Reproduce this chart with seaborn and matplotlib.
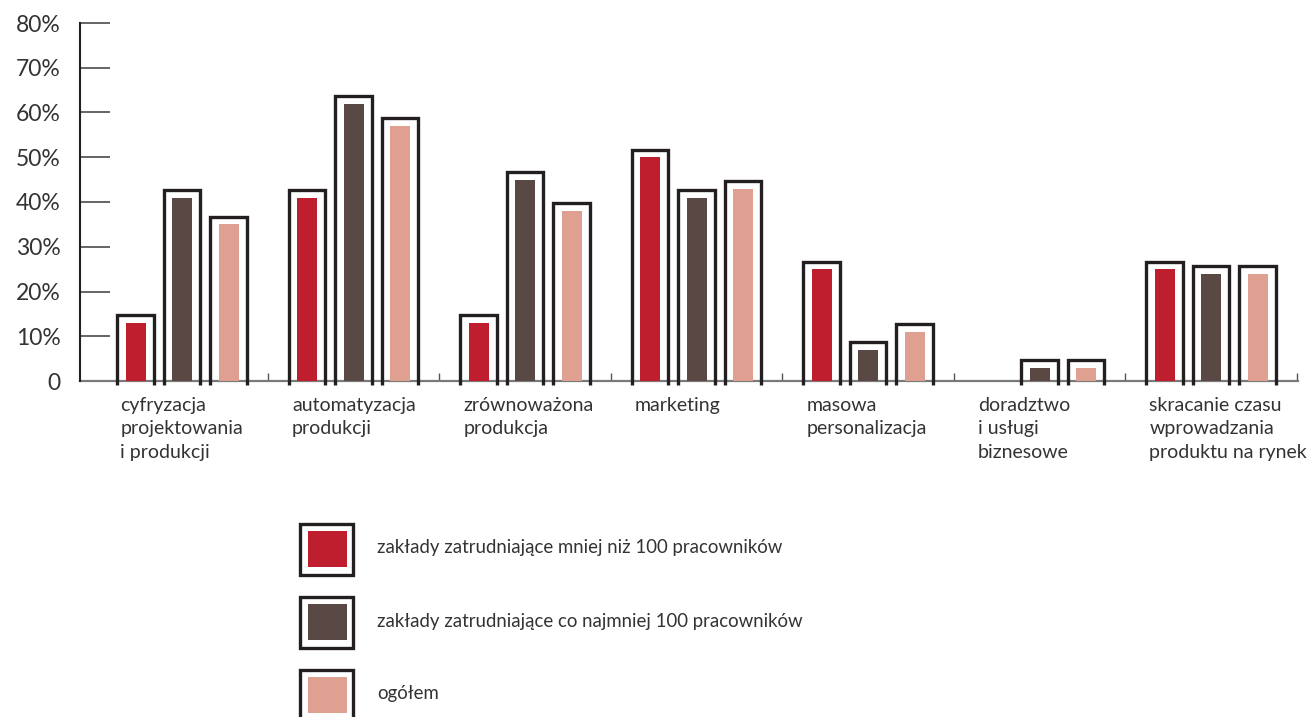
import matplotlib
matplotlib.use("Agg")
import matplotlib.pyplot as plt
import seaborn as sns
import pandas as pd
from matplotlib.patches import Rectangle
from matplotlib.ticker import FuncFormatter, FixedLocator

# --- data -----------------------------------------------------------------
categories = [
    "cyfryzacja\nprojektowania\ni produkcji",
    "automatyzacja\nprodukcji",
    "zrównoważona\nprodukcja",
    "marketing",
    "masowa\npersonalizacja",
    "doradztwo\ni usługi\nbiznesowe",
    "skracanie czasu\nwprowadzania\nproduktu na rynek",
]
series_names = [
    "zakłady zatrudniające mniej niż 100 pracowników",
    "zakłady zatrudniające co najmniej 100 pracowników",
    "ogółem",
]
small_plants = [13, 41, 13, 50, 25, 0, 25]
large_plants = [41, 62, 45, 41, 7, 3, 24]
all_plants = [35, 57, 38, 43, 11, 3, 24]
y_ticks = [0, 10, 20, 30, 40, 50, 60, 70, 80]

colors = ["#BE1E2D", "#594844", "#E0A091"]
frame_color = "#231F20"
text_color = "#333333"

rows = []
for name, vals in zip(series_names, [small_plants, large_plants, all_plants]):
    for cat, v in zip(categories, vals):
        rows.append({"kategoria": cat, "grupa": name, "udział": v})
df = pd.DataFrame(rows)

# --- style ----------------------------------------------------------------
sns.set_style("white")
plt.rcParams["font.family"] = ["Lato", "DejaVu Sans"]
plt.rcParams["text.color"] = text_color

W, H = 1311, 717
fig = plt.figure(figsize=(W / 100, H / 100), dpi=100)
ax = fig.add_axes([80 / W, (H - 381) / H, (1298 - 80) / W, (381 - 23) / H])

sns.barplot(
    data=df, x="kategoria", y="udział", hue="grupa",
    order=categories, hue_order=series_names, palette=colors,
    width=0.813, gap=0.57, saturation=1, linewidth=0,
    legend=False, ax=ax, zorder=3,
)

ax.set_xlim(-0.595, 6.507)
ax.set_ylim(0, 80)

# framed outline around every bar: open at the bottom, a little above the bar
px_per_unit_x = (1298 - 80) / (6.507 + 0.595)
px_per_pct = (381 - 23) / 80
side = 8.2 / px_per_unit_x
lift = 7.5 / px_per_pct
for p in ax.patches:
    h = p.get_height()
    if h <= 0:
        continue
    x0 = p.get_x() - side
    x1 = p.get_x() + p.get_width() + side
    ax.plot([x0, x0, x1, x1], [-0.9, h + lift, h + lift, -0.9],
            color=frame_color, lw=2.4, solid_joinstyle="miter",
            solid_capstyle="butt", clip_on=False, zorder=4)

# axes
for s in ["top", "right"]:
    ax.spines[s].set_visible(False)
ax.spines["left"].set_color(frame_color)
ax.spines["left"].set_linewidth(1.5)
ax.spines["bottom"].set_color("#7a7a7a")
ax.spines["bottom"].set_linewidth(1.6)
ax.spines["bottom"].set_zorder(2)

ax.set_yticks(y_ticks)
ax.yaxis.set_major_formatter(FuncFormatter(lambda v, _: "0" if v == 0 else f"{int(v)}%"))
ax.tick_params(axis="y", left=True, direction="in", length=21.6, width=1.1,
               color="#3a3a3a", pad=14, labelsize=16.5, labelcolor=text_color)

ax.set_xticks(range(len(categories)))
ax.set_xticklabels([])
ax.tick_params(axis="x", which="major", length=0)
ax.xaxis.set_minor_locator(FixedLocator([i + 0.5 for i in range(len(categories))]))
ax.tick_params(axis="x", which="minor", bottom=True, direction="in", length=5.8,
               width=1.0, color="#555555")
ax.set_xlabel("")
ax.set_ylabel("")

# category labels, left aligned near the first bar of each group
slot = 0.813 / 3
bar_w = slot * (1 - 0.57)
for i, cat in enumerate(categories):
    ax.text(i - slot - bar_w / 2 - 0.03, -0.045, cat, transform=ax.get_xaxis_transform(),
            ha="left", va="top", fontsize=14, linespacing=1.45, color=text_color)

# legend
for k, (name, col) in enumerate(zip(series_names, colors)):
    dy = 73 * k
    fig.add_artist(Rectangle(((299.7) / W, (H - 575 - dy) / H), 53.6 / W, 51 / H,
                             transform=fig.transFigure, facecolor="white",
                             edgecolor=frame_color, lw=2.4, joinstyle="miter"))
    fig.add_artist(Rectangle((307.7 / W, (H - 567 - dy) / H), 39.3 / W, 36 / H,
                             transform=fig.transFigure, facecolor=col, lw=0))
    fig.text(377 / W, (H - 548 - dy) / H, name, ha="left", va="center",
             fontsize=13.4, color=text_color)

fig.savefig("out.png", dpi=100)
